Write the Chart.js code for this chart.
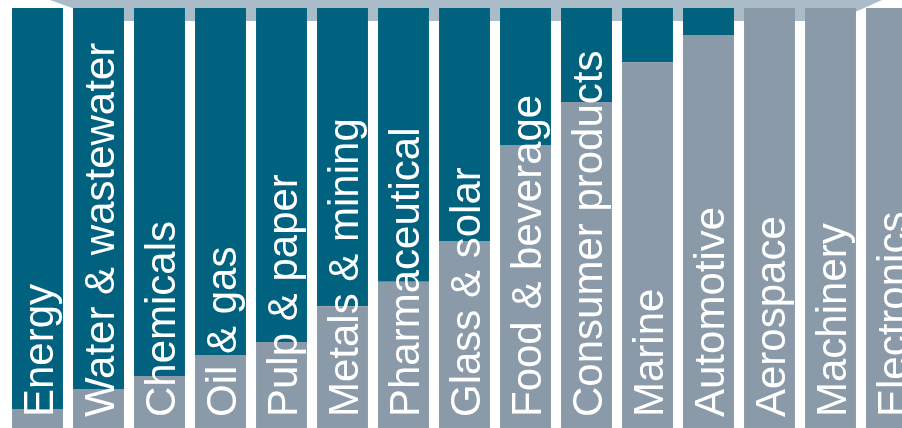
<!DOCTYPE html>
<html>
<head>
<meta charset="utf-8">
<script src="https://cdn.jsdelivr.net/npm/chart.js@4"></script>
<style>
  html, body { margin: 0; padding: 0; background: #fff; overflow: hidden; }
  #wrap { width: 924px; height: 428px; position: relative; }
</style>
</head>
<body>
<div id="wrap"><canvas id="barChart"></canvas></div>
<script>
// Industry categories (left to right)
const industries = ["Energy", "Water & wastewater", "Chemicals", "Oil & gas", "Pulp & paper",
    "Metals & mining", "Pharmaceutical", "Glass & solar", "Food & beverage", "Consumer products",
    "Marine", "Automotive", "Aerospace", "Machinery", "Electronics"];

// Lower grey share (%) per industry
const greyShare = [4.5, 9.3, 12.4, 17.4, 20.5, 29.0, 34.8, 44.5, 67.4, 77.6, 87.1, 93.6, 100, 100, 100];
// Upper teal share (%) per industry
const tealShare = [95.5, 90.7, 87.6, 82.6, 79.5, 71.0, 65.2, 55.5, 32.6, 22.4, 12.9, 6.4, 0, 0, 0];

const tealColor = '#00627f';
const greyColor = '#8a9aa8';
const bandColor = '#aabcc8';

// Light grey band behind the bar tops
const bandPlugin = {
    id: 'band',
    beforeDatasetsDraw(chart) {
        const ctx = chart.ctx;
        ctx.save();
        ctx.fillStyle = bandColor;
        ctx.beginPath();
        ctx.moveTo(50, 0);
        ctx.lineTo(882, 0);
        ctx.lineTo(835, 21);
        ctx.lineTo(108, 21);
        ctx.closePath();
        ctx.fill();
        ctx.restore();
    }
};

// White rotated category names inside the bars
const labelPlugin = {
    id: 'barLabels',
    afterDatasetsDraw(chart) {
        const ctx = chart.ctx;
        const xScale = chart.scales.x;
        const fontSize = 42;
        ctx.save();
        ctx.fillStyle = '#ffffff';
        ctx.font = fontSize + 'px "Liberation Sans", Arial, sans-serif';
        ctx.textAlign = 'left';
        ctx.textBaseline = 'alphabetic';
        industries.forEach(function(name, i) {
            const x = xScale.getPixelForValue(i) + fontSize * 0.716 / 2;
            ctx.save();
            ctx.translate(x, 417);
            ctx.rotate(-Math.PI / 2);
            ctx.fillText(name, 0, 0);
            ctx.restore();
        });
        ctx.restore();
    }
};

document.addEventListener("DOMContentLoaded", function() {
    const ctxBar = document.getElementById('barChart').getContext('2d');
    new Chart(ctxBar, {
        type: 'bar',
        data: {
            labels: industries,
            datasets: [{
                data: greyShare,
                backgroundColor: greyColor,
                barPercentage: 0.835,
                categoryPercentage: 1.0
            }, {
                data: tealShare,
                backgroundColor: tealColor,
                barPercentage: 0.835,
                categoryPercentage: 1.0
            }]
        },
        options: {
            responsive: true,
            maintainAspectRatio: false,
            animation: false,
            layout: { padding: { left: 7, right: 2, top: 8, bottom: 0 } },
            plugins: {
                legend: { display: false },
                tooltip: { enabled: false }
            },
            scales: {
                x: { stacked: true, display: false },
                y: { stacked: true, display: false, min: 0, max: 100 }
            }
        },
        plugins: [bandPlugin, labelPlugin]
    });
});
</script>
</body>
</html>
